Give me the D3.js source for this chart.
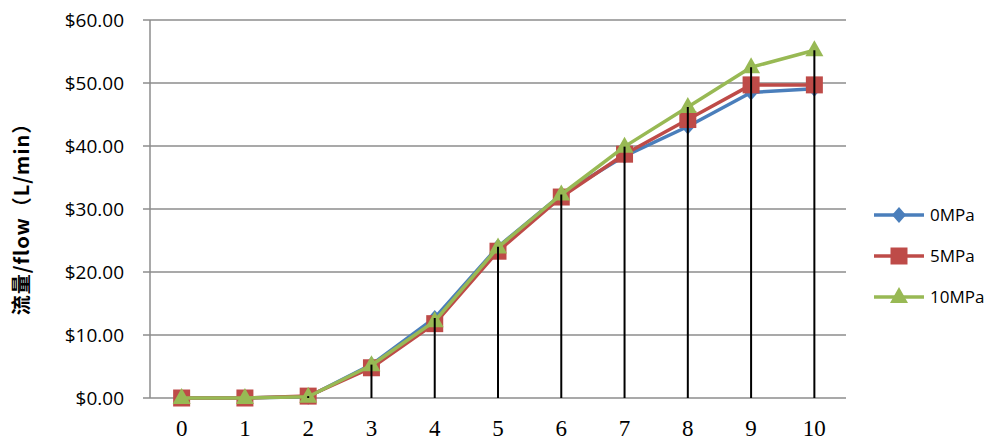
<!DOCTYPE html>
<html>
<head>
<meta charset="utf-8">
<script src="https://cdnjs.cloudflare.com/ajax/libs/d3/7.8.5/d3.min.js"></script>
<style>
  body { margin: 0; background: white; }
  .ytick { font-family: "Open Sans", Lato, sans-serif; font-size: 19px; fill: #000; }
  .xtick { font-family: "Liberation Serif", serif; font-size: 23px; fill: #000; }
  .legend-label { font-family: "Open Sans", Lato, sans-serif; font-size: 17px; fill: #000; }
</style>
</head>
<body>
<div id="chart"></div>
<script>
  const categories = [0, 1, 2, 3, 4, 5, 6, 7, 8, 9, 10];
  const seriesNames = ["0MPa", "5MPa", "10MPa"];
  const flow0 = [0, 0, 0.2, 5.3, 12.7, 24.0, 32.3, 38.4, 43.1, 48.5, 49.1];
  const flow5 = [0, 0, 0.3, 4.8, 11.8, 23.3, 31.9, 38.7, 44.2, 49.7, 49.7];
  const flow10 = [0, 0, 0.2, 5.2, 12.2, 23.9, 32.3, 39.9, 46.2, 52.5, 55.2];
  const yTicks = [0, 10, 20, 30, 40, 50, 60];

  const colors = ["#4A7EBB", "#BE4B48", "#98B954"];
  const series = [flow0, flow5, flow10];

  // marker shapes, centred on 0,0
  const markerPaths = [
    "M0,-8L7,0L0,8L-7,0Z",
    "M-8.5,-8.5H8.5V8.5H-8.5Z",
    "M0,-10L9,6H-9Z"
  ];

  const W = 1002, H = 442;
  const svg = d3.select("#chart").append("svg")
    .attr("width", W).attr("height", H);

  const x = d3.scaleBand().domain(categories).range([150, 846]);
  const y = d3.scaleLinear().domain([0, 60]).range([398, 20]);
  const cx = d => x(d) + x.bandwidth() / 2;

  // gridlines
  svg.append("g").selectAll("line").data(yTicks).join("line")
    .attr("x1", 143).attr("x2", 846)
    .attr("y1", d => y(d)).attr("y2", d => y(d))
    .attr("stroke", "#8c8c8c").attr("stroke-width", 1.5);

  // y axis line
  svg.append("line")
    .attr("x1", 150).attr("x2", 150).attr("y1", y(60)).attr("y2", y(0))
    .attr("stroke", "#8c8c8c").attr("stroke-width", 1.5);

  // y tick labels
  svg.append("g").selectAll("text").data(yTicks).join("text")
    .attr("class", "ytick")
    .attr("x", 124).attr("y", d => y(d)).attr("dy", "0.35em")
    .attr("text-anchor", "end")
    .text(d => "$" + d.toFixed(2));

  // x tick labels
  svg.append("g").selectAll("text").data(categories).join("text")
    .attr("class", "xtick")
    .attr("x", d => cx(d)).attr("y", 436)
    .attr("text-anchor", "middle")
    .text(d => d);

  // y title
  svg.append("text")
    .attr("transform", "translate(29,214) rotate(-90)")
    .attr("text-anchor", "middle")
    .style("font-family", "'Noto Sans CJK SC', sans-serif")
    .style("font-size", "20px")
    .style("font-weight", "bold")
    .style("letter-spacing", "1px")
    .text("流量/flow（L/min）");

  const line = d3.line().x((d, i) => cx(categories[i])).y(d => y(d));

  series.forEach((vals, s) => {
    svg.append("path").datum(vals)
      .attr("d", line)
      .attr("fill", "none")
      .attr("stroke", colors[s])
      .attr("stroke-width", 3.5)
      .attr("stroke-linejoin", "round");
    svg.append("g").selectAll("path").data(vals).join("path")
      .attr("transform", (d, i) => `translate(${cx(categories[i])},${y(d)})`)
      .attr("d", markerPaths[s])
      .attr("fill", colors[s]);
  });

  // drop lines from axis to highest value
  svg.append("g").selectAll("line").data(categories).join("line")
    .attr("x1", d => cx(d)).attr("x2", d => cx(d))
    .attr("y1", y(0))
    .attr("y2", (d, i) => y(Math.max(flow0[i], flow5[i], flow10[i])))
    .attr("stroke", "#000").attr("stroke-width", 2);

  // legend
  const lg = svg.append("g");
  seriesNames.forEach((name, s) => {
    const ly = 215 + s * 41;
    lg.append("line")
      .attr("x1", 874).attr("x2", 924).attr("y1", ly).attr("y2", ly)
      .attr("stroke", colors[s]).attr("stroke-width", 3.5);
    lg.append("path")
      .attr("transform", `translate(899,${ly})`)
      .attr("d", markerPaths[s])
      .attr("fill", colors[s]);
    lg.append("text")
      .attr("class", "legend-label")
      .attr("x", 930).attr("y", ly).attr("dy", "0.35em")
      .text(name);
  });
</script>
</body>
</html>
